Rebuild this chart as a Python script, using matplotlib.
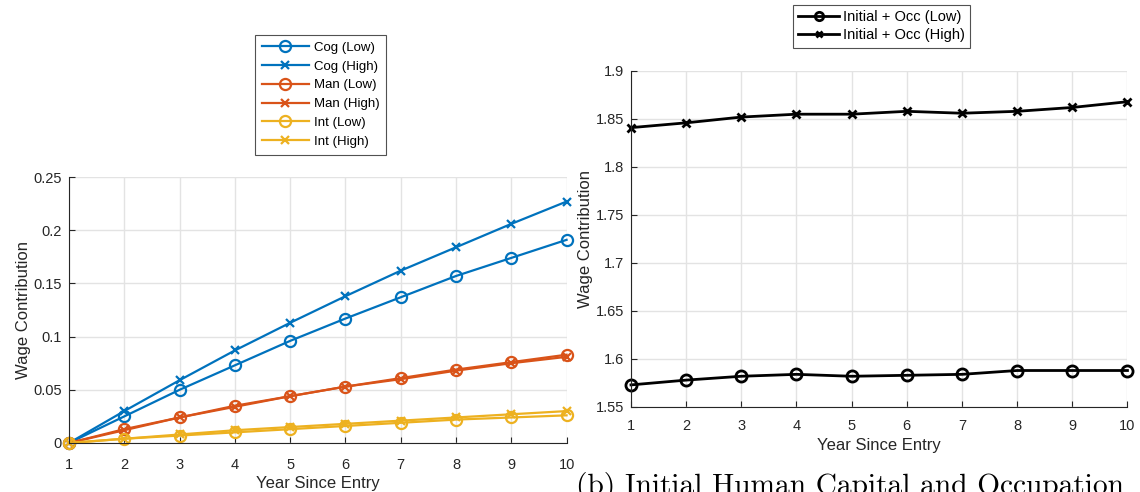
import matplotlib
matplotlib.use("Agg")
import matplotlib.pyplot as plt

# Year since entry
years = [1, 2, 3, 4, 5, 6, 7, 8, 9, 10]

# Panel (a): skill-specific wage contributions
cog_low = [0, 0.025, 0.050, 0.073, 0.096, 0.117, 0.137, 0.157, 0.174, 0.191]
cog_high = [0, 0.030, 0.059, 0.087, 0.113, 0.138, 0.162, 0.184, 0.206, 0.227]
man_low = [0, 0.013, 0.024, 0.035, 0.044, 0.053, 0.061, 0.069, 0.076, 0.083]
man_high = [0, 0.012, 0.024, 0.034, 0.044, 0.053, 0.060, 0.068, 0.075, 0.081]
int_low = [0, 0.004, 0.007, 0.010, 0.013, 0.016, 0.019, 0.022, 0.024, 0.026]
int_high = [0, 0.004, 0.008, 0.012, 0.015, 0.018, 0.021, 0.024, 0.027, 0.030]

# Panel (b): initial human capital + occupation
occ_low = [1.573, 1.578, 1.582, 1.584, 1.582, 1.583, 1.584, 1.588, 1.588, 1.588]
occ_high = [1.841, 1.846, 1.852, 1.855, 1.855, 1.858, 1.856, 1.858, 1.862, 1.868]

left_yticks = [0, 0.05, 0.1, 0.15, 0.2, 0.25]
left_yticklabels = ["0", "0.05", "0.1", "0.15", "0.2", "0.25"]
right_yticks = [1.55, 1.6, 1.65, 1.7, 1.75, 1.8, 1.85, 1.9]
right_yticklabels = ["1.55", "1.6", "1.65", "1.7", "1.75", "1.8", "1.85", "1.9"]

BLUE, ORANGE, YELLOW = "#0072BD", "#D95319", "#EDB120"
TXT = "#262626"
GRID = "#e3e3e3"

plt.rcParams["font.family"] = ["Liberation Sans", "DejaVu Sans"]
plt.rcParams["font.size"] = 10.5

fig = plt.figure(figsize=(11.4, 4.92), dpi=100)


def style_axes(ax, xpad):
    ax.spines["top"].set_visible(False)
    ax.spines["right"].set_visible(False)
    for s in ("left", "bottom"):
        ax.spines[s].set_color(TXT)
        ax.spines[s].set_linewidth(0.8)
    ax.tick_params(direction="in", colors=TXT, labelcolor=TXT, length=4,
                   width=0.8, labelsize=10.5)
    ax.tick_params(axis="y", pad=5)
    ax.tick_params(axis="x", pad=xpad)
    ax.grid(True, color=GRID, linewidth=1.0)
    ax.set_axisbelow(True)
    ax.set_xticks(years)
    ax.set_xlim(1, 10)


ax1 = fig.add_axes([0.0605, 0.0996, 0.4365, 0.5405])
style_axes(ax1, 10.5)
lw, mew = 1.6, 1.6
series = [
    (cog_low, BLUE, "o", "Cog (Low)"),
    (cog_high, BLUE, "x", "Cog (High)"),
    (man_low, ORANGE, "o", "Man (Low)"),
    (man_high, ORANGE, "x", "Man (High)"),
    (int_low, YELLOW, "o", "Int (Low)"),
    (int_high, YELLOW, "x", "Int (High)"),
]
for vals, col, mk, lab in series:
    ax1.plot(years, vals, color=col, marker=mk, lw=lw,
             ms=(8 if mk == "o" else 6), mew=mew, mfc="none", label=lab,
             clip_on=False)
ax1.set_ylim(0, 0.25)
ax1.set_yticks(left_yticks)
ax1.set_yticklabels(left_yticklabels)
ax1.set_xlabel("Year Since Entry", fontsize=12, color=TXT, labelpad=3)
ax1.set_ylabel("Wage Contribution", fontsize=12, color=TXT, labelpad=2)
leg1 = fig.legend(loc="upper left", bbox_to_anchor=(0.2237, 0.929),
                  fontsize=9.5, frameon=True, fancybox=False,
                  edgecolor=TXT, handlelength=3.6, handletextpad=0.35,
                  borderpad=0.5, labelspacing=0.5, borderaxespad=0,
                  handles=ax1.get_lines())
leg1.get_frame().set_linewidth(0.8)

ax2 = fig.add_axes([0.5535, 0.1728, 0.4355, 0.6829])
style_axes(ax2, 9)
ax2.plot(years, occ_low, color="black", marker="o", lw=2.0, ms=8, mew=2.0,
         mfc="none", label="Initial + Occ (Low)", clip_on=False)
ax2.plot(years, occ_high, color="black", marker="x", lw=2.0, ms=6, mew=2.0,
         label="Initial + Occ (High)", clip_on=False)
ax2.set_ylim(1.55, 1.9)
ax2.set_yticks(right_yticks)
ax2.set_yticklabels(right_yticklabels)
ax2.set_xlabel("Year Since Entry", fontsize=12, color=TXT, labelpad=3)
ax2.set_ylabel("Wage Contribution", fontsize=12, color=TXT, labelpad=2)
leg2 = fig.legend(loc="upper left", bbox_to_anchor=(0.6956, 0.990),
                  fontsize=10.5, frameon=True, fancybox=False,
                  edgecolor=TXT, handlelength=2.8, handletextpad=0.3,
                  borderpad=0.35, labelspacing=0.3, borderaxespad=0,
                  handles=[
                      plt.Line2D([], [], color="black", lw=2.0, marker="o",
                                 ms=6, mew=2.0, mfc="none"),
                      plt.Line2D([], [], color="black", lw=2.0, marker="x",
                                 ms=5, mew=2.0),
                  ],
                  labels=["Initial + Occ (Low)", "Initial + Occ (High)"])
leg2.get_frame().set_linewidth(0.8)

fig.text(0.505, -0.018, "(b) Initial Human Capital and Occupation",
         family="cmr10", fontsize=21.2, color="black", ha="left", va="bottom")

fig.savefig("out.png", dpi=100)
